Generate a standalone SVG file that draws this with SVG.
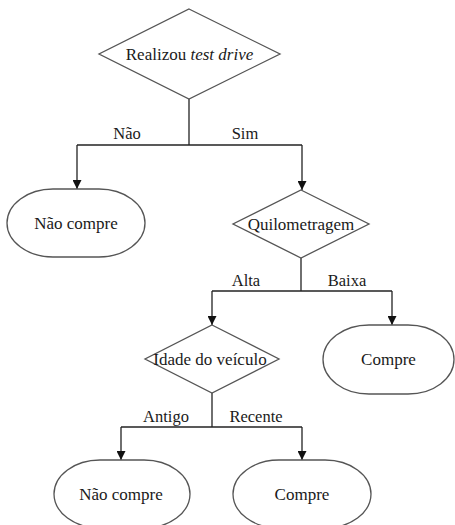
<svg xmlns="http://www.w3.org/2000/svg" width="455" height="525" viewBox="0 0 455 525">
  <style>
    .shape { fill: #ffffff; stroke: #555555; stroke-width: 1.3; }
    .wire { fill: none; stroke: #222222; stroke-width: 1.3; }
    .txt { font-family: 'Liberation Serif', 'Times New Roman', serif; font-size: 17px; fill: #1a1a1a; text-anchor: middle; }
    .lbl { font-family: 'Liberation Serif', 'Times New Roman', serif; font-size: 16.5px; fill: #1a1a1a; text-anchor: middle; }
  </style>
  <defs>
    <marker id="arrow" viewBox="0 0 10 10" refX="10" refY="5" markerWidth="9" markerHeight="9" markerUnits="userSpaceOnUse" orient="auto">
      <path d="M0,0 L10,5 L0,10 Z" fill="#111111"/>
    </marker>
  </defs>
  <rect width="455" height="525" fill="#ffffff"/>

  <!-- connectors and their branch labels -->
  <g id="connectors">
    <path class="wire" d="M189,99 V145"/>
    <path class="wire" d="M77,145 H302"/>
    <path class="wire" d="M77,145 V189" marker-end="url(#arrow)"/>
    <path class="wire" d="M302,145 V190" marker-end="url(#arrow)"/>

    <path class="wire" d="M301,258 V291"/>
    <path class="wire" d="M212,291 H392"/>
    <path class="wire" d="M212,291 V325" marker-end="url(#arrow)"/>
    <path class="wire" d="M392,291 V325" marker-end="url(#arrow)"/>

    <path class="wire" d="M212,393 V427"/>
    <path class="wire" d="M121,427 H302"/>
    <path class="wire" d="M121,427 V460" marker-end="url(#arrow)"/>
    <path class="wire" d="M302,427 V460" marker-end="url(#arrow)"/>

    <text class="lbl" x="127" y="139">Não</text>
    <text class="lbl" x="245" y="139">Sim</text>
    <text class="lbl" x="246" y="285.5">Alta</text>
    <text class="lbl" x="347" y="285.5">Baixa</text>
    <text class="lbl" x="166" y="421.5">Antigo</text>
    <text class="lbl" x="256" y="421.5">Recente</text>
  </g>

  <!-- decision: test drive -->
  <g id="test-drive">
    <polygon class="shape" points="189,9 280,54 189,99 99,54"/>
    <text class="txt" x="189.5" y="60">Realizou <tspan font-style="italic">test drive</tspan></text>
  </g>

  <!-- outcome: no test drive -->
  <g id="nao-compre-1">
    <rect class="shape" x="7" y="189" width="138" height="68" rx="46" ry="34"/>
    <text class="txt" x="76" y="229">Não compre</text>
  </g>

  <!-- decision: mileage -->
  <g id="quilometragem">
    <polygon class="shape" points="301,190 369,224 301,258 233,224"/>
    <text class="txt" x="301" y="230">Quilometragem</text>
  </g>

  <!-- outcome: low mileage -->
  <g id="compre-1">
    <rect class="shape" x="323" y="325" width="131" height="69" rx="46" ry="34.5"/>
    <text class="txt" x="388.5" y="365">Compre</text>
  </g>

  <!-- decision: vehicle age -->
  <g id="idade-veiculo">
    <polygon class="shape" points="212,325 279,359 212,393 145,359"/>
    <text class="txt" x="210" y="365">Idade do veículo</text>
  </g>

  <!-- outcome: old vehicle -->
  <g id="nao-compre-2">
    <rect class="shape" x="54" y="460" width="136" height="68" rx="46" ry="34"/>
    <text class="txt" x="121" y="500">Não compre</text>
  </g>

  <!-- outcome: recent vehicle -->
  <g id="compre-2">
    <rect class="shape" x="233" y="460" width="138" height="68" rx="46" ry="34"/>
    <text class="txt" x="302" y="500">Compre</text>
  </g>
</svg>
